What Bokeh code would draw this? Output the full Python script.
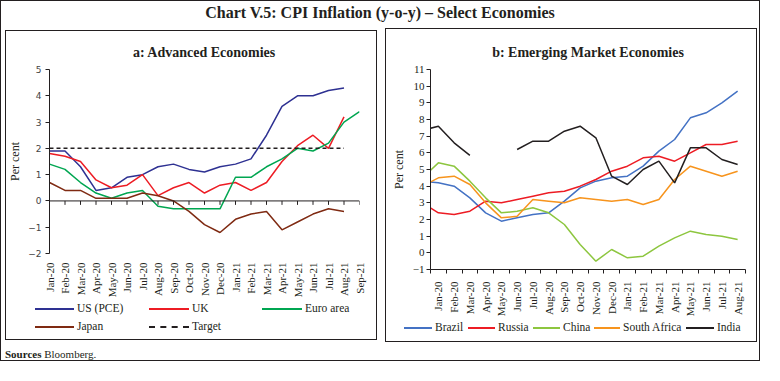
import math
from bokeh.plotting import figure
from bokeh.models import ColumnDataSource, FixedTicker, Span, Div, Range1d
from bokeh.layouts import column, row
from bokeh.embed import file_html
from bokeh.resources import INLINE

# ---------------- data: panel a (Advanced Economies) ----------------
months_a = ["Jan-20", "Feb-20", "Mar-20", "Apr-20", "May-20", "Jun-20", "Jul-20",
            "Aug-20", "Sep-20", "Oct-20", "Nov-20", "Dec-20", "Jan-21", "Feb-21",
            "Mar-21", "Apr-21", "May-21", "Jun-21", "Jul-21", "Aug-21", "Sep-21"]
us_pce = [1.9, 1.9, 1.3, 0.4, 0.5, 0.9, 1.0, 1.3, 1.4, 1.2, 1.1, 1.3, 1.4, 1.6,
          2.5, 3.6, 4.0, 4.0, 4.2, 4.3, None]
uk = [1.8, 1.7, 1.5, 0.8, 0.5, 0.6, 1.0, 0.2, 0.5, 0.7, 0.3, 0.6, 0.7, 0.4,
      0.7, 1.5, 2.1, 2.5, 2.0, 3.2, None]
euro_area = [1.4, 1.2, 0.7, 0.3, 0.1, 0.3, 0.4, -0.2, -0.3, -0.3, -0.3, -0.3, 0.9,
             0.9, 1.3, 1.6, 2.0, 1.9, 2.2, 3.0, 3.4]
japan = [0.7, 0.4, 0.4, 0.1, 0.1, 0.1, 0.3, 0.2, 0.0, -0.4, -0.9, -1.2, -0.7, -0.5,
         -0.4, -1.1, -0.8, -0.5, -0.3, -0.4, None]
target = [2.0, 2.0, 2.0, 2.0, 2.0, 2.0, 2.0, 2.0, 2.0, 2.0, 2.0, 2.0, 2.0, 2.0,
          2.0, 2.0, 2.0, 2.0, 2.0, 2.0, None]
yticks_a = [-2, -1, 0, 1, 2, 3, 4, 5]
names_a = ["US (PCE)", "UK", "Euro area", "Japan", "Target"]
colors_a = ["#2E3192", "#ED1C24", "#00A651", "#7F2A12", "#231F20"]

# ---------------- data: panel b (Emerging Market Economies) ----------------
# first entry (Dec-19) lies left of the axis and is only seen as the clipped line start
months_b = ["Dec-19", "Jan-20", "Feb-20", "Mar-20", "Apr-20", "May-20", "Jun-20",
            "Jul-20", "Aug-20", "Sep-20", "Oct-20", "Nov-20", "Dec-20", "Jan-21",
            "Feb-21", "Mar-21", "Apr-21", "May-21", "Jun-21", "Jul-21", "Aug-21"]
brazil = [4.3, 4.2, 4.0, 3.3, 2.4, 1.9, 2.1, 2.3, 2.4, 3.1, 3.9, 4.3, 4.5, 4.6,
          5.2, 6.1, 6.8, 8.1, 8.4, 9.0, 9.7]
russia = [3.0, 2.4, 2.3, 2.5, 3.1, 3.0, 3.2, 3.4, 3.6, 3.7, 4.0, 4.4, 4.9, 5.2,
          5.7, 5.8, 5.5, 6.0, 6.5, 6.5, 6.7]
china = [4.5, 5.4, 5.2, 4.3, 3.3, 2.4, 2.5, 2.7, 2.4, 1.7, 0.5, -0.5, 0.2, -0.3,
         -0.2, 0.4, 0.9, 1.3, 1.1, 1.0, 0.8]
south_africa = [4.0, 4.5, 4.6, 4.1, 3.0, 2.1, 2.2, 3.2, 3.1, 3.0, 3.3, 3.2, 3.1,
                3.2, 2.9, 3.2, 4.4, 5.2, 4.9, 4.6, 4.9]
india = [7.35, 7.6, 6.6, 5.85, None, None, 6.2, 6.7, 6.7, 7.3, 7.6, 6.9, 4.6, 4.1,
         5.0, 5.5, 4.2, 6.3, 6.3, 5.6, 5.3]
yticks_b = [-1, 0, 1, 2, 3, 4, 5, 6, 7, 8, 9, 10, 11]
names_b = ["Brazil", "Russia", "China", "South Africa", "India"]
colors_b = ["#4472C4", "#ED1C24", "#8DC63F", "#F7941D", "#231F20"]

SERIF = "Liberation Serif"
SANS = "DejaVu Sans"
INK = "#231F20"


def arr(v):
    return [float("nan") if a is None else float(a) for a in v]


# ================= panel a =================
xa = list(range(len(months_a)))
src_a = ColumnDataSource(dict(x=xa, us=arr(us_pce), uk=arr(uk), eu=arr(euro_area),
                              jp=arr(japan), tg=arr(target),
                              y0=[0.0] * len(xa), y1=[-0.15] * len(xa)))

p1 = figure(width=382, height=275, output_backend="svg", toolbar_location=None,
            x_range=Range1d(0, len(months_a) - 1), y_range=Range1d(-2, 5),
            min_border_left=49, min_border_right=23, min_border_top=44,
            min_border_bottom=44, title="a: Advanced Economies")
p1.outline_line_color = None
p1.border_fill_color = None
p1.background_fill_color = None
p1.grid.grid_line_color = None
p1.title.align = "center"
p1.title.text_font = SERIF
p1.title.text_font_size = "14px"
p1.title.text_color = INK
p1.title.standoff = 20

p1.add_layout(Span(location=0, dimension="width", line_color=INK, line_width=1))
p1.segment(x0="x", y0="y0", x1="x", y1="y1", source=src_a, line_color=INK, line_width=1)

for col, c in zip(["us", "uk", "eu", "jp"], colors_a[:4]):
    p1.line("x", col, source=src_a, line_color=c, line_width=1.5)
p1.line("x", "tg", source=src_a, line_color=colors_a[4], line_width=1.5, line_dash="4 3")

xa_ax = p1.xaxis[0]
xa_ax.ticker = FixedTicker(ticks=xa)
xa_ax.major_label_overrides = {i: m for i, m in zip(xa, months_a)}
xa_ax.major_label_orientation = math.pi / 2
xa_ax.axis_line_color = None
xa_ax.major_tick_line_color = None
xa_ax.minor_tick_line_color = None
xa_ax.major_label_standoff = 3
xa_ax.major_label_text_font = SERIF
xa_ax.major_label_text_font_size = "11px"
xa_ax.major_label_text_color = INK

ya_ax = p1.yaxis[0]
ya_ax.ticker = FixedTicker(ticks=yticks_a)
ya_ax.axis_line_color = INK
ya_ax.major_tick_line_color = INK
ya_ax.major_tick_out = 4
ya_ax.major_tick_in = 0
ya_ax.minor_tick_line_color = None
ya_ax.major_label_standoff = 4
ya_ax.major_label_text_font = SANS
ya_ax.major_label_text_font_size = "9px"
ya_ax.major_label_text_color = "#444444"
ya_ax.axis_label = "Per cent"
ya_ax.axis_label_text_font = SERIF
ya_ax.axis_label_text_font_style = "normal"
ya_ax.axis_label_text_font_size = "12px"
ya_ax.axis_label_text_color = INK
ya_ax.axis_label_standoff = 3

# ================= panel b =================
xb = [i - 1 for i in range(len(months_b))]
src_b = ColumnDataSource(dict(x=xb, br=arr(brazil), ru=arr(russia), cn=arr(china),
                              za=arr(south_africa), inn=arr(india)))

p2 = figure(width=378, height=294, output_backend="svg", toolbar_location=None,
            x_range=Range1d(-0.5, len(months_b) - 1.5), y_range=Range1d(-1, 11),
            min_border_left=48, min_border_right=15, min_border_top=44,
            min_border_bottom=44, title="b: Emerging Market Economies")
p2.outline_line_color = None
p2.border_fill_color = None
p2.background_fill_color = None
p2.grid.grid_line_color = None
p2.title.align = "center"
p2.title.text_font = SERIF
p2.title.text_font_size = "14px"
p2.title.text_color = INK
p2.title.standoff = 20

for col, c in zip(["br", "ru", "cn", "za", "inn"], colors_b):
    p2.line("x", col, source=src_b, line_color=c, line_width=1.5)

xb_ax = p2.xaxis[0]
vis = [i for i in xb if i >= 0]
xb_ax.ticker = FixedTicker(ticks=vis, minor_ticks=[i - 0.5 for i in vis] + [vis[-1] + 0.5])
xb_ax.major_label_overrides = {i: m for i, m in zip(xb, months_b) if i >= 0}
xb_ax.major_label_orientation = math.pi / 2
xb_ax.axis_line_color = INK
xb_ax.major_tick_line_color = None
xb_ax.minor_tick_line_color = INK
xb_ax.minor_tick_out = 4
xb_ax.minor_tick_in = 0
xb_ax.major_label_standoff = 6
xb_ax.major_label_text_font = SERIF
xb_ax.major_label_text_font_size = "11px"
xb_ax.major_label_text_color = INK

yb_ax = p2.yaxis[0]
yb_ax.ticker = FixedTicker(ticks=yticks_b)
yb_ax.axis_line_color = INK
yb_ax.major_tick_line_color = INK
yb_ax.major_tick_out = 4
yb_ax.major_tick_in = 0
yb_ax.minor_tick_line_color = None
yb_ax.major_label_standoff = 2
yb_ax.major_label_text_font = SERIF
yb_ax.major_label_text_font_size = "11px"
yb_ax.major_label_text_color = INK
yb_ax.axis_label = "Per cent"
yb_ax.axis_label_text_font = SERIF
yb_ax.axis_label_text_font_style = "normal"
yb_ax.axis_label_text_font_size = "12px"
yb_ax.axis_label_text_color = INK
yb_ax.axis_label_standoff = 4


# ================= legends (plain HTML keys + real text) =================
def key(left, top, width, color, text, dashed=False):
    line = (f"border-top:2px dashed {color};height:0;" if dashed
            else f"background:{color};height:2px;")
    return (f'<div style="position:absolute;left:{left}px;top:{top}px;width:{width}px;{line}"></div>'
            f'<div style="position:absolute;left:{left + width + 3}px;top:{top - 7}px;'
            f'font-family:\'{SERIF}\';font-size:11.5px;line-height:15px;color:{INK};'
            f'white-space:nowrap;">{text}</div>')


leg_a_html = ('<div style="position:relative;width:380px;height:44px;overflow:hidden;">'
              + key(35, 8, 39, colors_a[0], names_a[0])
              + key(149, 8, 40, colors_a[1], names_a[1])
              + key(262, 8, 40, colors_a[2], names_a[2])
              + key(35, 26, 39, colors_a[3], names_a[3])
              + key(149, 26, 40, colors_a[4], names_a[4], dashed=True)
              + '</div>')
leg_b_html = ('<div style="position:relative;width:376px;height:26px;overflow:hidden;">'
              + key(22, 8, 28, colors_b[0], names_b[0])
              + key(86, 8, 27, colors_b[1], names_b[1])
              + key(151, 8, 27, colors_b[2], names_b[2])
              + key(212, 8, 26, colors_b[3], names_b[3])
              + key(304, 8, 28, colors_b[4], names_b[4])
              + '</div>')
leg_a = Div(text=leg_a_html, width=382, height=45, margin=0)
leg_b = Div(text=leg_b_html, width=378, height=26, margin=0)

# ================= page =================
title_div = Div(text=(f'<div style="width:760px;text-align:center;font-family:\'{SERIF}\';'
                      f'font-weight:bold;font-size:16px;line-height:20px;color:{INK};'
                      f'padding-top:3px;">Chart V.5: CPI Inflation (y-o-y) \u2013 Select Economies</div>'),
                width=760, height=25, margin=0)
src_div = Div(text=(f'<div style="padding-left:5px;padding-top:2px;font-family:\'{SERIF}\';'
                    f'font-size:11px;line-height:14px;color:{INK};"><b>Sources</b> Bloomberg.</div>'),
              width=760, height=16, margin=0)

col_a = column(p1, leg_a, styles={"outline": f"1px solid {INK}", "outline-offset": "-6px"})
col_b = column(p2, leg_b, styles={"outline": f"1px solid {INK}", "outline-offset": "-4px"})
root = column(title_div, row(col_a, col_b), src_div,
              styles={"outline": f"1px solid {INK}", "outline-offset": "-1px"})

open("out.html", "w").write(file_html(root, INLINE))
